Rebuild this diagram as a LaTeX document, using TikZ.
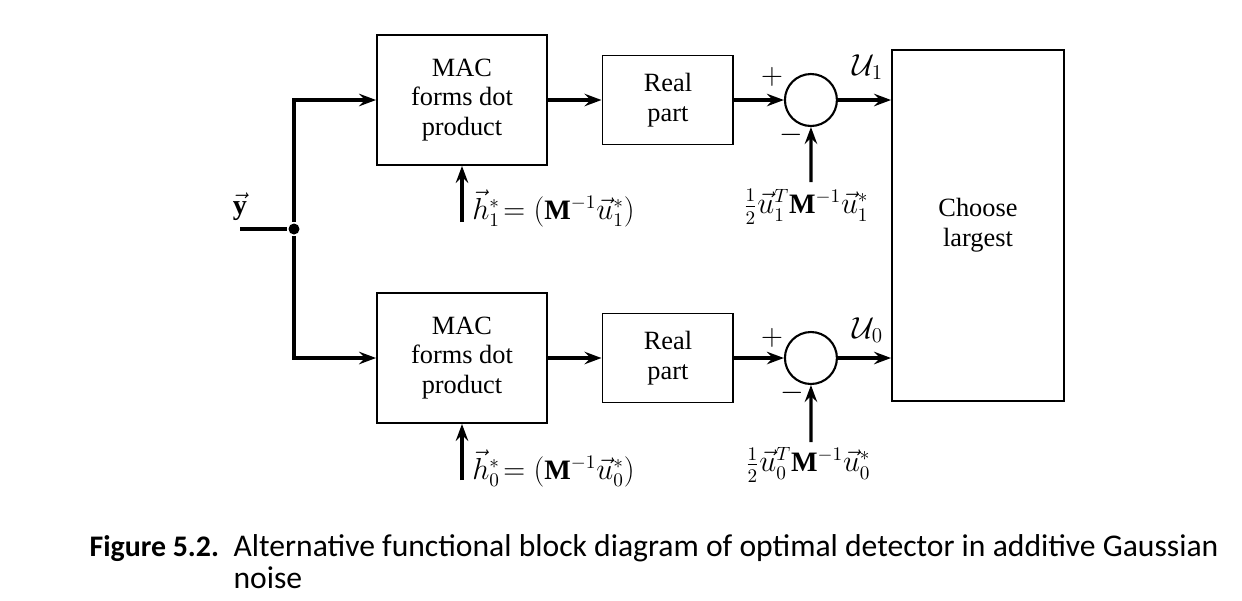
\documentclass[tikz,border=0pt]{standalone}
\usepackage{amsmath}
\usepackage{fontspec}
\setmainfont{Liberation Serif}
\newfontfamily\capfont{Carlito}
\usepackage{tikz}
\usetikzlibrary{arrows.meta}

\begin{document}
\begin{tikzpicture}[x=0.02cm,y=-0.02cm,->,>={Stealth[length=3.4mm,width=2.5mm,inset=1.2mm]},line width=1.8pt,auto,node distance=4.12cm,
	block/.style={rectangle,draw,line width=1.1pt,align=center,font=\fontsize{15}{17}\selectfont,minimum width=3.4cm,minimum height=2.6cm},
	real node/.style={block,minimum width=2.62cm,minimum height=1.78cm},
	sum node/.style={circle,draw,line width=1.2pt,minimum size=1.04cm,inner sep=0pt},
	dot/.style={circle,fill,inner sep=0pt,minimum size=2.2mm},
	lbl/.style={font=\fontsize{16}{18}\selectfont,inner sep=1pt},
	captext/.style={anchor=base west,font=\capfont\fontsize{18}{20}\selectfont,inner sep=0pt}]
		
		\useasboundingbox (0,0) rectangle (1242,600);
		
		\node[block] (mac1) at (462,100) {MAC\\forms dot\\product};
		\node[real node] (re1) [right of = mac1] {Real\\part};
		\node[sum node] (sum1) [right of = re1, node distance = 2.86cm] {};
		
		\node[block] (mac0) at (462,358) {MAC\\forms dot\\product};
		\node[real node] (re0) [right of = mac0] {Real\\part};
		\node[sum node] (sum0) [right of = re0, node distance = 2.86cm] {};
		
		\node[block,minimum width=3.44cm,minimum height=7.02cm] (choose) at (978,225.5) {Choose\\largest};
		
		% input and split
		\coordinate (yin) at (240,229);
		\node[dot] (split) at (294,229) {};
		\node[lbl] (ylbl) at (240,207) {$\vec{\mathbf{y}}$};
		\draw[-] (yin) -- (split);
		\draw (split) |- (mac1);
		\draw (split) |- (mac0);
		
		\draw (mac1) -- (re1);
		\draw (re1) -- (sum1);
		\draw (sum1.east) -- (sum1.east -| choose.west);
		\draw (mac0) -- (re0);
		\draw (re0) -- (sum0);
		\draw (sum0.east) -- (sum0.east -| choose.west);
		
		% weights into the MACs
		\coordinate (h1in) at (462,222);
		\coordinate (h0in) at (462,480);
		\draw (h1in) -- (mac1);
		\draw (h0in) -- (mac0);
		\node[lbl,anchor=west] (h1lbl) at (469,208) {${\vec{h}}_1^{*}\!= (\mathbf{M}^{-1}{\vec{u}}_1^{*})$};
		\node[lbl,anchor=west] (h0lbl) at (469,468) {${\vec{h}}_0^{*}\!= (\mathbf{M}^{-1}{\vec{u}}_0^{*})$};
		
		% thresholds into the sums
		\coordinate (t1in) at (811,182);
		\coordinate (t0in) at (811,442);
		\draw (t1in) -- (sum1);
		\draw (t0in) -- (sum0);
		\node[lbl] (t1lbl) at (806,207) {$\tfrac{1}{2}{\vec{u}}_1^{T}\mathbf{M}^{-1}{\vec{u}}_1^{*}$};
		\node[lbl] (t0lbl) at (808,465) {$\tfrac{1}{2}{\vec{u}}_0^{T}\mathbf{M}^{-1}{\vec{u}}_0^{*}$};
		
		\node[lbl] (plus1) at (772,77) {$+$};
		\node[lbl] (minus1) at (791,135) {$-$};
		\node[lbl] (plus0) at (772,338) {$+$};
		\node[lbl] (minus0) at (792,393) {$-$};
		
		\node[lbl,font=\fontsize{18}{20}\selectfont] (u1lbl) at (868,67) {$\mathcal{U}_1$};
		\node[lbl,font=\fontsize{18}{20}\selectfont] (u0lbl) at (868,330) {$\mathcal{U}_0$};
		
		% caption
		\node[captext,font=\capfont\bfseries\fontsize{17}{20}\selectfont] (capnum) at (88,556) {Figure 5.2.};
		\node[captext] (capone) at (232,556) {Alternative functional block diagram of optimal detector in additive Gaussian};
		\node[captext] (captwo) at (232,588) {noise};
		
\end{tikzpicture}
\end{document}
